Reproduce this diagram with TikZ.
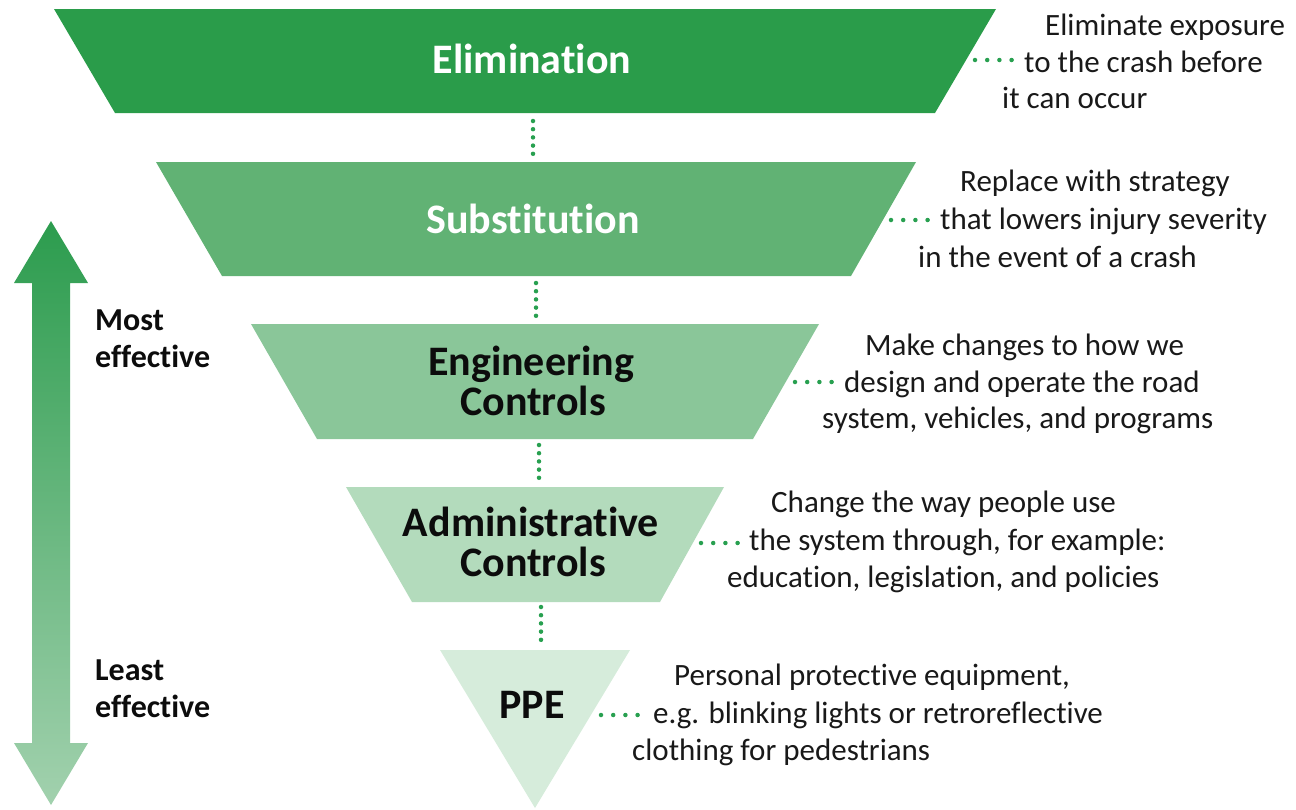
\documentclass[tikz,border=0pt]{standalone}
\usepackage{fontspec}
\setmainfont{Carlito}[Ligatures={NoCommon}]
\definecolor{elimc}{RGB}{42,156,74}
\definecolor{subc}{RGB}{97,178,116}
\definecolor{engc}{RGB}{138,198,153}
\definecolor{admc}{RGB}{179,219,188}
\definecolor{ppec}{RGB}{214,236,219}
\definecolor{arrtop}{RGB}{44,156,78}
\definecolor{arrbot}{RGB}{162,209,174}
\definecolor{dotc}{RGB}{40,160,80}
\definecolor{desctext}{RGB}{25,25,25}
\definecolor{titletext}{RGB}{12,12,12}
\tikzset{
  title/.style={font=\fontsize{42}{48}\selectfont\bfseries, inner sep=0pt, anchor=base, text=titletext},
  desc/.style={font=\fontsize{31}{37}\selectfont, text=desctext, inner sep=0pt, anchor=base west},
  side/.style={font=\fontsize{32}{38}\selectfont\bfseries, text=titletext, inner sep=0pt, anchor=base west},
  vdots/.style={draw=dotc, line width=4.5pt, line cap=round, dash pattern=on 0pt off 8.2pt},
  hdots/.style={draw=dotc, line width=4.5pt, line cap=round, dash pattern=on 0pt off 12.2pt},
}
\begin{document}
\begin{tikzpicture}[x=1pt,y=-1pt]
\useasboundingbox (0,0) rectangle (1296,809);
% levels
\fill[elimc] (54,9) -- (996,9) -- (935,113) -- (115,113) -- cycle;
\fill[subc] (156,162) -- (916,162) -- (851,276) -- (222,276) -- cycle;
\fill[engc] (251,324) -- (819,324) -- (753,439) -- (317,439) -- cycle;
\fill[admc] (346,487) -- (724,487) -- (660,602) -- (412,602) -- cycle;
\fill[ppec] (440,650) -- (630,650) -- (535,808) -- cycle;
% effectiveness arrow
\shade[top color=arrtop, bottom color=arrbot] (51,221) -- (88,283) -- (70,283) -- (70,743) -- (88,743) -- (51,805) -- (14,743) -- (32,743) -- (32,283) -- (14,283) -- cycle;
\node[side] (most1) at (95,330) {Most};
\node[side] (most2) at (95,367) {effective};
\node[side] (least1) at (95,680) {Least};
\node[side] (least2) at (95,717) {effective};
% titles
\node[title,text=white] (elimT) at (532,73) {Elimination};
\node[title,text=white] (subT) at (533,233) {Substitution};
\node[title] (engT1) at (531,375) {Engineering};
\node[title] (engT2) at (533,415) {Controls};
\node[title] (admT1) at (531,536) {Administrative};
\node[title] (admT2) at (533,576) {Controls};
\node[title] (ppeT) at (532,718) {PPE};
% descriptions
\node[desc] (elimL1) at (1045,35) {Eliminate exposure};
\node[desc] (elimL2) at (1024,72) {to the crash before};
\node[desc] (elimL3) at (1002,108) {it can occur};
\node[desc] (subL1) at (960,191) {Replace with strategy};
\node[desc] (subL2) at (940,229) {that lowers injury severity};
\node[desc] (subL3) at (918,267) {in the event of a crash};
\node[desc] (engL1) at (865,355) {Make changes to how we};
\node[desc] (engL2) at (844,392) {design and operate the road};
\node[desc] (engL3) at (822,428) {system, vehicles, and programs};
\node[desc] (admL1) at (771,512) {Change the way people use};
\node[desc] (admL2) at (749,550) {the system through, for example:};
\node[desc] (admL3) at (727,587) {education, legislation, and policies};
\node[desc] (ppeL1) at (674,685) {Personal protective equipment,};
\node[desc] (ppeL2) at (653,723) {e.g. blinking lights or retroreflective};
\node[desc] (ppeL3) at (632,760) {clothing for pedestrians};
% vertical dotted links
\coordinate (v1a) at (533,121); \coordinate (v1b) at (533,154);
\coordinate (v2a) at (536,283); \coordinate (v2b) at (536,316);
\coordinate (v3a) at (539,445); \coordinate (v3b) at (539,478);
\coordinate (v4a) at (541,607); \coordinate (v4b) at (541,640);
\draw[vdots] (v1a) -- (v1b);
\draw[vdots] (v2a) -- (v2b);
\draw[vdots] (v3a) -- (v3b);
\draw[vdots] (v4a) -- (v4b);
% horizontal dotted links
\coordinate (h1a) at (975,60); \coordinate (h1b) at (1012,60);
\coordinate (h2a) at (891,220); \coordinate (h2b) at (928,220);
\coordinate (h3a) at (795,382); \coordinate (h3b) at (832,382);
\coordinate (h4a) at (701,543); \coordinate (h4b) at (738,543);
\coordinate (h5a) at (601,715); \coordinate (h5b) at (638,715);
\draw[hdots] (h1a) -- (h1b);
\draw[hdots] (h2a) -- (h2b);
\draw[hdots] (h3a) -- (h3b);
\draw[hdots] (h4a) -- (h4b);
\draw[hdots] (h5a) -- (h5b);
\end{tikzpicture}
\end{document}
